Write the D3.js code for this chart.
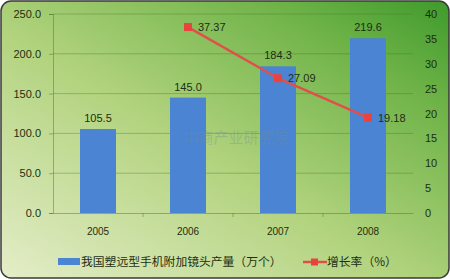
<!DOCTYPE html>
<html><head><meta charset="utf-8">
<script src="https://cdn.jsdelivr.net/npm/d3@7"></script>
<style>html,body{margin:0;padding:0;background:#fff;}svg{display:block;}</style>
</head><body>
<script>
const categories = ["2005", "2006", "2007", "2008"];
const production = [105.5, 145.0, 184.3, 219.6];
const growth = [null, 37.37, 27.09, 19.18];
const leftTicks = [0, 50, 100, 150, 200, 250];
const rightTicks = [0, 5, 10, 15, 20, 25, 30, 35, 40];
const seriesNames = ["我国塑远型手机附加镜头产量（万个）", "增长率（%）"];
const watermark = "中商产业研究院";

const W = 450, H = 279;
const m = {l: 53, r: 37, t: 14, b: 66};
const svg = d3.select("body").append("svg").attr("width", W).attr("height", H);
const defs = svg.append("defs");
const g1 = defs.append("linearGradient").attr("id", "bg").attr("x1", 0).attr("y1", 1).attr("x2", 1).attr("y2", 0);
g1.append("stop").attr("offset", 0).attr("stop-color", "#e4edc8");
g1.append("stop").attr("offset", 0.45).attr("stop-color", "#b2d37e");
g1.append("stop").attr("offset", 0.8).attr("stop-color", "#6fb348");
g1.append("stop").attr("offset", 1).attr("stop-color", "#3f9a2c");
svg.append("rect").attr("x", 1).attr("y", 1).attr("width", W - 2).attr("height", H - 2)
  .attr("rx", 10).attr("fill", "url(#bg)").attr("stroke", "#3a3a3a").attr("stroke-width", 1.5);

const x = d3.scaleBand().domain(categories).range([m.l, W - m.r]).paddingInner(0.6).paddingOuter(0.3);
const xc = d3.scaleBand().domain(categories).range([m.l, W - m.r]);
const yL = d3.scaleLinear().domain([0, 250]).range([H - m.b, m.t]);
const yR = d3.scaleLinear().domain([0, 40]).range([H - m.b, m.t]);
const font = "'Liberation Sans', 'DejaVu Sans', sans-serif";
const cjk = "'Noto Sans CJK SC', sans-serif";
const tc = "#1d2e12";

// gridlines
svg.append("g").selectAll("line").data(leftTicks.slice(1)).join("line")
  .attr("x1", m.l).attr("x2", W - m.r).attr("y1", d => yL(d)).attr("y2", d => yL(d))
  .attr("stroke", "rgba(70,110,40,0.35)").attr("stroke-width", 1);

// left axis
const axL = svg.append("g").attr("transform", `translate(${m.l},0)`)
  .call(d3.axisLeft(yL).tickValues(leftTicks).tickFormat(d3.format(".1f")).tickSize(4).tickPadding(8));
axL.select(".domain").attr("stroke", "rgba(70,110,40,0.45)");
axL.selectAll(".tick line").attr("stroke", "rgba(70,110,40,0.45)");
axL.selectAll("text").attr("font-family", font).attr("font-size", 11).attr("fill", tc);

// right axis
const axR = svg.append("g").attr("transform", `translate(${W - m.r},0)`)
  .call(d3.axisRight(yR).tickValues(rightTicks).tickSize(0).tickPadding(12));
axR.select(".domain").remove();
axR.selectAll("text").attr("font-family", font).attr("font-size", 11).attr("fill", tc);

// bottom axis
const axB = svg.append("g").attr("transform", `translate(0,${H - m.b})`)
  .call(d3.axisBottom(xc).tickSize(0).tickPadding(15));
axB.select(".domain").attr("stroke", "rgba(70,110,40,0.45)");
axB.selectAll("text").attr("font-family", font).attr("font-size", 10).attr("fill", tc);
svg.append("g").selectAll("line").data(categories.slice(1)).join("line")
  .attr("x1", d => xc(d)).attr("x2", d => xc(d)).attr("y1", H - m.b).attr("y2", H - m.b + 4)
  .attr("stroke", "rgba(70,110,40,0.45)");

// bars
svg.append("g").selectAll("rect").data(categories).join("rect")
  .attr("x", d => x(d)).attr("width", x.bandwidth())
  .attr("y", (d, i) => yL(production[i])).attr("height", (d, i) => yL(0) - yL(production[i]))
  .attr("fill", "#4a84d2");
svg.append("g").selectAll("text").data(categories).join("text")
  .attr("x", d => x(d) + x.bandwidth() / 2).attr("y", (d, i) => yL(production[i]) - 7)
  .attr("text-anchor", "middle").attr("font-family", font).attr("font-size", 11).attr("fill", tc)
  .text((d, i) => production[i].toFixed(1));

// watermark
svg.append("text").attr("x", 236).attr("y", 143).attr("text-anchor", "middle")
  .attr("font-family", cjk).attr("font-size", 15).attr("fill", "rgba(120,140,150,0.35)").text(watermark);

// line
const pts = categories.map((c, i) => ({c, v: growth[i]})).filter(d => d.v != null);
const px = d => xc(d.c) + xc.bandwidth() / 2;
svg.append("path").datum(pts)
  .attr("d", d3.line().x(px).y(d => yR(d.v)))
  .attr("fill", "none").attr("stroke", "#e0504a").attr("stroke-width", 2.5);
svg.append("g").selectAll("rect").data(pts).join("rect")
  .attr("x", d => px(d) - 4).attr("y", d => yR(d.v) - 4).attr("width", 8).attr("height", 8)
  .attr("fill", "#e8433f");
svg.append("g").selectAll("text").data(pts).join("text")
  .attr("x", d => px(d) + 10).attr("y", d => yR(d.v) + 4)
  .attr("font-family", font).attr("font-size", 11).attr("fill", tc)
  .text(d => d.v.toFixed(2));

// legend
const ly = 262;
svg.append("rect").attr("x", 58).attr("y", ly - 4).attr("width", 22).attr("height", 7).attr("fill", "#4a84d2");
svg.append("text").attr("x", 81).attr("y", ly + 4).attr("font-family", cjk).attr("font-size", 11.8)
  .attr("fill", tc).text(seriesNames[0]);
svg.append("line").attr("x1", 303).attr("x2", 327).attr("y1", ly).attr("y2", ly)
  .attr("stroke", "#e0504a").attr("stroke-width", 2.5);
svg.append("rect").attr("x", 311).attr("y", ly - 3.5).attr("width", 7).attr("height", 7).attr("fill", "#e8433f");
svg.append("text").attr("x", 327).attr("y", ly + 4).attr("font-family", cjk).attr("font-size", 11.8)
  .attr("fill", tc).text(seriesNames[1]);
</script>
</body></html>
